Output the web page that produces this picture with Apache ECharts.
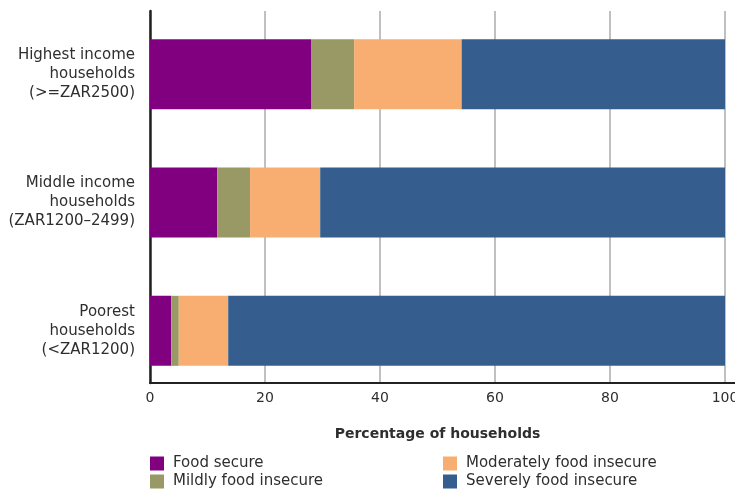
<!DOCTYPE html>
<html>
<head>
<meta charset="utf-8">
<script src="https://cdn.jsdelivr.net/npm/echarts@6/dist/echarts.min.js"></script>
<style>
  html, body { margin: 0; padding: 0; background: #fff; }
  #chart { width: 735px; height: 491px; }
</style>
</head>
<body>
<div id="chart"></div>
<script>
// Household income groups (top to bottom)
const categories = [
  'Highest income\nhouseholds\n(>=ZAR2500)',
  'Middle income\nhouseholds\n(ZAR1200–2499)',
  'Poorest\nhouseholds\n(<ZAR1200)'
];
// Food security status shares, % of households
const foodSecure = [28.0, 11.7, 3.7];
const mildlyInsecure = [7.5, 5.7, 1.3];
const moderatelyInsecure = [18.7, 12.2, 8.6];
const severelyInsecure = [45.8, 70.4, 86.4];
const xTicks = [0, 20, 40, 60, 80, 100];

const seriesNames = ['Food secure', 'Mildly food insecure', 'Moderately food insecure', 'Severely food insecure'];
const seriesData = [foodSecure, mildlyInsecure, moderatelyInsecure, severelyInsecure];
const colors = ['#800080', '#999966', '#F8AE70', '#355E8E'];

const FONT = '"DejaVu Sans", sans-serif';
const TEXT = '#2e2e2e';

const chart = echarts.init(document.getElementById('chart'));
chart.setOption({
  animation: false,
  textStyle: { fontFamily: FONT },
  grid: [
    // frame, gridlines and value axis
    { left: 150, top: 11, width: 575, height: 372, containLabel: false, outerBoundsMode: 'none' },
    // bars and category labels
    { left: 150, top: 10, width: 575, height: 385, containLabel: false, outerBoundsMode: 'none' }
  ],
  xAxis: [
    {
      gridIndex: 0, type: 'value', min: xTicks[0], max: xTicks[xTicks.length - 1], interval: 20,
      axisLine: { show: true, lineStyle: { color: '#222', width: 2 } },
      axisTick: { show: false },
      axisLabel: { margin: 8, fontSize: 14, color: TEXT, fontFamily: FONT },
      splitLine: { show: true, lineStyle: { color: '#ababab', width: 1.5 } },
      name: 'Percentage of households', nameLocation: 'middle', nameGap: 44,
      nameTextStyle: { fontSize: 14, fontWeight: 'bold', color: TEXT, fontFamily: FONT }
    },
    {
      gridIndex: 1, type: 'value', min: 0, max: 100, show: false
    }
  ],
  yAxis: [
    {
      gridIndex: 0, type: 'value', min: 0, max: 1,
      axisLine: { show: true, lineStyle: { color: '#222', width: 2.5 } },
      axisTick: { show: false }, axisLabel: { show: false }, splitLine: { show: false }
    },
    {
      gridIndex: 1, type: 'category', data: categories, inverse: true,
      axisLine: { show: false }, axisTick: { show: false }, splitLine: { show: false },
      axisLabel: {
        margin: 15, fontSize: 15, lineHeight: 19, color: TEXT, align: 'right', fontFamily: FONT
      }
    }
  ],
  legend: [
    {
      data: seriesNames.slice(0, 2), orient: 'vertical', left: 150, top: 456,
      itemWidth: 14, itemHeight: 14, itemGap: 3, padding: 0,
      icon: 'rect', textStyle: { fontSize: 15, color: TEXT, fontFamily: FONT, padding: [0, 0, 0, 4] }
    },
    {
      data: seriesNames.slice(2, 4), orient: 'vertical', left: 443, top: 456,
      itemWidth: 14, itemHeight: 14, itemGap: 3, padding: 0,
      icon: 'rect', textStyle: { fontSize: 15, color: TEXT, fontFamily: FONT, padding: [0, 0, 0, 4] }
    }
  ],
  graphic: [
    // bottom frame line continues to the right edge
    { type: 'line', shape: { x1: 724, y1: 383, x2: 735, y2: 383 }, style: { stroke: '#222', lineWidth: 2 }, z: 10 }
  ],
  series: seriesNames.map((name, i) => ({
    name, type: 'bar', stack: 'total', xAxisIndex: 1, yAxisIndex: 1,
    barWidth: 70, data: seriesData[i],
    itemStyle: { color: colors[i] }, z: 3
  }))
});
</script>
</body>
</html>
